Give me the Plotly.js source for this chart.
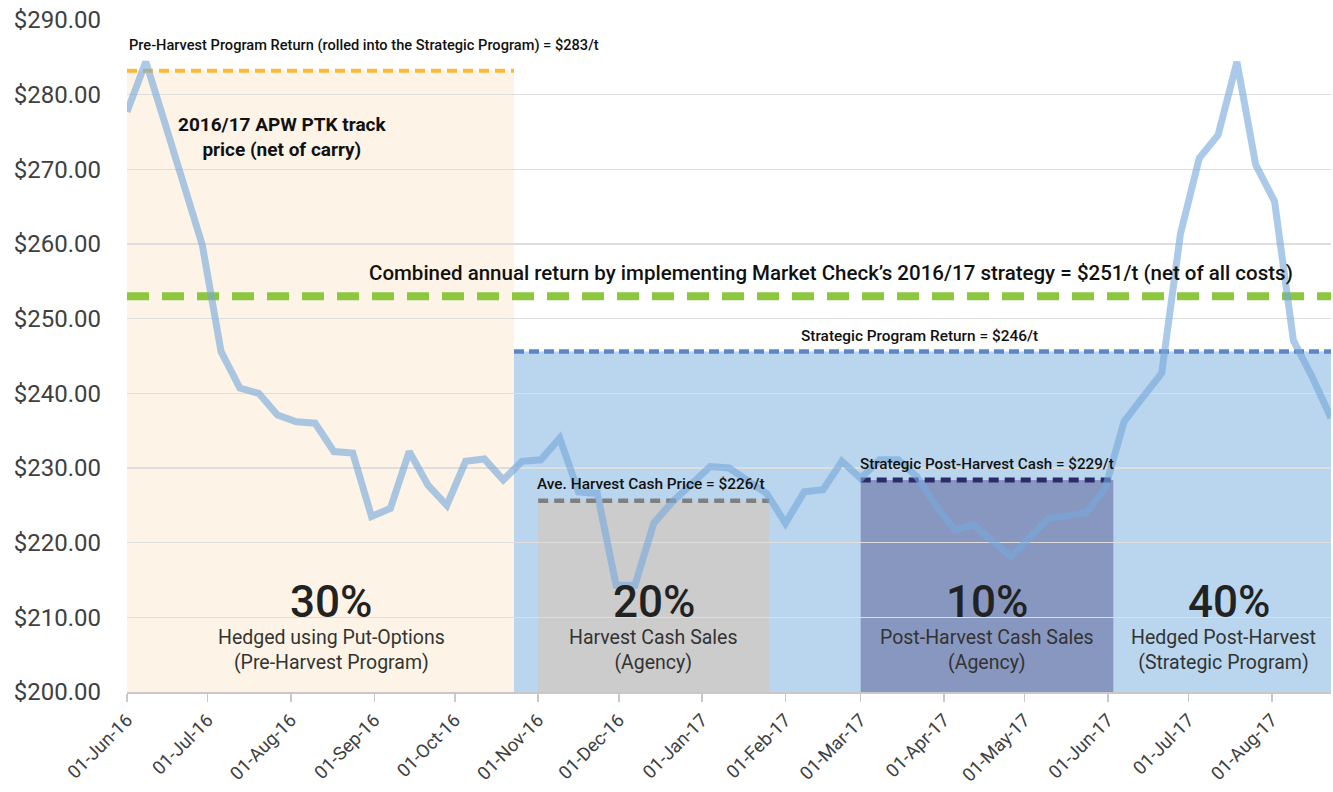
<!DOCTYPE html>
<html>
<head>
<meta charset="utf-8">
<script src="https://cdn.plot.ly/plotly-3.0.1.min.js"></script>
<style>html,body{margin:0;padding:0;background:#fff;}#chart{width:1333px;height:792px;}</style>
</head>
<body>
<div id="chart"></div>
<script>
// ---- Data ----
const weekDates = [
  '2016-06-01','2016-06-08','2016-06-15','2016-06-22','2016-06-29',
  '2016-07-06','2016-07-13','2016-07-20','2016-07-27',
  '2016-08-03','2016-08-10','2016-08-17','2016-08-24','2016-08-31',
  '2016-09-07','2016-09-14','2016-09-21','2016-09-28',
  '2016-10-05','2016-10-12','2016-10-19','2016-10-26',
  '2016-11-02','2016-11-09','2016-11-16','2016-11-23','2016-11-30',
  '2016-12-07','2016-12-14','2016-12-21','2016-12-28',
  '2017-01-04','2017-01-11','2017-01-18','2017-01-25',
  '2017-02-01','2017-02-08','2017-02-15','2017-02-22',
  '2017-03-01','2017-03-08','2017-03-15','2017-03-22','2017-03-29',
  '2017-04-05','2017-04-12','2017-04-19','2017-04-26',
  '2017-05-03','2017-05-10','2017-05-17','2017-05-24','2017-05-31',
  '2017-06-07','2017-06-14','2017-06-21','2017-06-28',
  '2017-07-05','2017-07-12','2017-07-19','2017-07-26',
  '2017-08-02','2017-08-09','2017-08-16','2017-08-23'
];
const ptkPrice = [
  277.7, 284.4, 276.3, 268.2, 259.9,
  245.6, 240.7, 240.0, 237.1,
  236.2, 236.0, 232.2, 232.0, 223.5,
  224.6, 232.2, 227.7, 225.0,
  230.9, 231.2, 228.4, 230.9,
  231.1, 234.0, 226.8, 226.6, 214.3,
  214.3, 222.6, 225.5, 228.0,
  230.2, 230.0, 228.3, 226.6,
  222.6, 226.8, 227.1, 230.9,
  228.6, 231.1, 231.1, 228.8, 225.0,
  221.7, 222.4, 220.3, 218.1,
  220.7, 223.3, 223.6, 224.0, 227.3,
  236.2, 239.5, 242.7, 261.4,
  271.5, 274.6, 284.4, 270.6,
  265.7, 247.1, 242.2, 236.7
];

// Program periods and return levels
const axisStart = '2016-06-01';
const axisEnd = '2017-08-23';
const preHarvestEnd = '2016-10-23';
const harvestCashStart = '2016-11-01';
const harvestCashEnd = '2017-01-26';
const postHarvestStart = '2017-03-01';
const postHarvestEnd = '2017-06-03';
const preHarvestReturn = 283.2;
const combinedReturn = 253.0;
const strategicReturn = 245.6;
const harvestCashReturn = 225.6;
const postHarvestReturn = 228.4;

const segmentPct = ['30%', '20%', '10%', '40%'];
const segmentLabel = [
  'Hedged using Put-Options<br>(Pre-Harvest Program)',
  'Harvest Cash Sales<br>(Agency)',
  'Post-Harvest Cash Sales<br>(Agency)',
  'Hedged Post-Harvest<br>(Strategic Program)'
];

const FONT = 'Roboto, "Liberation Sans", sans-serif';

const trace = {
  x: weekDates, y: ptkPrice, type: 'scatter', mode: 'lines',
  line: {color: 'rgba(120,168,218,0.62)', width: 7},
  hoverinfo: 'skip', showlegend: false
};

function rect(x0, x1, y1, color) {
  return {type: 'rect', xref: 'x', yref: 'y', x0: x0, x1: x1, y0: 200, y1: y1,
    fillcolor: color, line: {width: 0}, layer: 'below'};
}
function hline(x0, x1, y, color, width, dash) {
  return {type: 'line', xref: 'x', yref: 'y', x0: x0, x1: x1, y0: y, y1: y,
    line: {color: color, width: width, dash: dash}, layer: 'between'};
}

const shapes = [
  rect(axisStart, preHarvestEnd, preHarvestReturn, '#FDF4E7'),
  rect(preHarvestEnd, axisEnd, strategicReturn, '#B9D6EE'),
  rect(harvestCashStart, harvestCashEnd, harvestCashReturn, '#CCCCCC'),
  rect(postHarvestStart, postHarvestEnd, postHarvestReturn, '#8797C0'),
  hline(axisStart, preHarvestEnd, preHarvestReturn, '#FDB933', 4, '10px,6px'),
  hline(axisStart, axisEnd, combinedReturn, '#8DC63F', 8, '22px,13px'),
  hline(preHarvestEnd, axisEnd, strategicReturn, '#5B87C6', 4.5, '10px,5px'),
  hline(harvestCashStart, harvestCashEnd, harvestCashReturn, '#7F7F7F', 4.5, '10px,6px'),
  hline(postHarvestStart, postHarvestEnd, postHarvestReturn, '#2E2A6B', 5, '10px,6px')
];

function txt(x, y, text, size, weight, color, xanchor) {
  return {x: x, y: y, xref: 'x', yref: 'y', text: text, showarrow: false,
    font: {family: FONT, size: size, color: color || '#111', weight: weight || 'normal'},
    xanchor: xanchor || 'center', yanchor: 'middle'};
}

const pctX = ['2016-08-16', '2016-12-14', '2017-04-17', '2017-07-16'];
const subX = ['2016-08-16', '2016-12-14', '2017-04-17', '2017-07-14'];

const annotations = [
  txt('2016-06-01', 286.65, 'Pre-Harvest Program Return (rolled into the Strategic Program) = $283/t', 14.6, 500, '#111', 'left'),
  txt('2016-07-29', 274.3, '2016/17 APW PTK track<br>price (net of carry)', 19, 'bold'),
  txt('2017-02-18', 256.1, 'Combined annual return by implementing Market Check\u2019s 2016/17 strategy = $251/t (net of all costs)', 20.5, 500),
  txt('2017-03-23', 247.7, 'Strategic Program Return = $246/t', 15.4, 500),
  txt('2016-12-13', 227.8, 'Ave. Harvest Cash Price = $226/t', 15.4, 500),
  txt('2017-04-17', 230.6, 'Strategic Post-Harvest Cash = $229/t', 15.2, 500)
];
for (let i = 0; i < segmentPct.length; i++) {
  annotations.push(txt(pctX[i], 212.1, segmentPct[i], 44, 500, '#222'));
  annotations.push(txt(subX[i], 205.65, segmentLabel[i], 19.5, 'normal', '#333'));
}

const layout = {
  width: 1333, height: 792,
  margin: {l: 127, r: 2, t: 20, b: 100, pad: 0},
  paper_bgcolor: '#fff', plot_bgcolor: 'rgba(0,0,0,0)',
  font: {family: FONT, color: '#404040'},
  showlegend: false,
  xaxis: {
    type: 'date', range: [axisStart, axisEnd],
    tick0: '2016-06-01', dtick: 'M1', tickformat: '%d-%b-%y', tickangle: -45,
    tickfont: {family: FONT, size: 18.5, color: '#404040'},
    ticks: 'outside', ticklen: 8, tickwidth: 1.5, tickcolor: '#C8C8C8',
    showline: true, linecolor: '#C8C8C8', linewidth: 2,
    showgrid: false, zeroline: false
  },
  yaxis: {
    range: [200, 290], dtick: 10, tick0: 200,
    tickprefix: '$', tickformat: '.2f',
    tickfont: {family: FONT, size: 24, color: '#404040'},
    ticks: '', ticklabelstandoff: 25,
    showgrid: true, gridcolor: '#DEDEDE', gridwidth: 1.5,
    showline: false, zeroline: false
  },
  shapes: shapes,
  annotations: annotations
};

Plotly.newPlot('chart', [trace], layout, {displayModeBar: false, staticPlot: true});
</script>
</body>
</html>
